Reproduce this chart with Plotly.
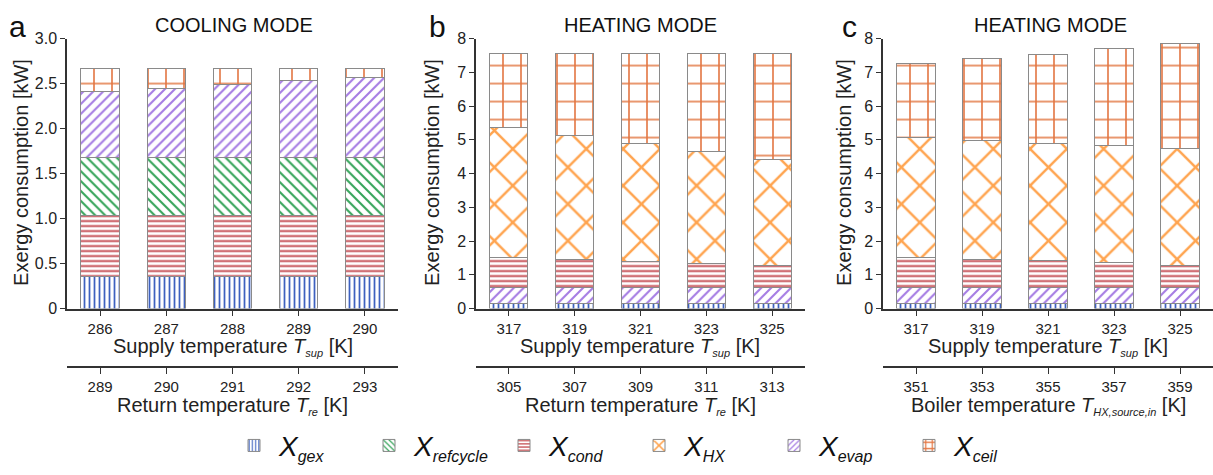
import plotly.graph_objects as go

# ---------------- data ----------------
cool_supply = ["286", "287", "288", "289", "290"]
cool_return = ["289", "290", "291", "292", "293"]
heatb_supply = ["317", "319", "321", "323", "325"]
heatb_return = ["305", "307", "309", "311", "313"]
heatc_supply = ["317", "319", "321", "323", "325"]
heatc_boiler = ["351", "353", "355", "357", "359"]

# panel a (cooling), kW
a_gex = [0.36, 0.36, 0.36, 0.36, 0.36]
a_cond = [0.67, 0.67, 0.67, 0.67, 0.67]
a_refcycle = [0.65, 0.65, 0.65, 0.65, 0.65]
a_evap = [0.73, 0.77, 0.81, 0.85, 0.89]
a_ceil = [0.26, 0.22, 0.18, 0.14, 0.10]

# panel b (heating, return temperature varied), kW
b_gex = [0.15, 0.15, 0.15, 0.15, 0.15]
b_evap = [0.48, 0.48, 0.48, 0.48, 0.48]
b_cond = [0.89, 0.83, 0.77, 0.71, 0.65]
b_hx = [3.85, 3.66, 3.49, 3.31, 3.14]
b_ceil = [2.18, 2.43, 2.66, 2.90, 3.13]

# panel c (heating, boiler temperature varied), kW
c_gex = [0.15, 0.15, 0.15, 0.15, 0.15]
c_evap = [0.48, 0.48, 0.48, 0.48, 0.48]
c_cond = [0.89, 0.83, 0.78, 0.72, 0.66]
c_hx = [3.54, 3.51, 3.48, 3.47, 3.45]
c_ceil = [2.19, 2.43, 2.65, 2.88, 3.12]

W, H = 1213, 475
FONT = "Liberation Sans, Arial, sans-serif"
TXT = "#222222"


def lg(sub):
    return "<i>X</i><sub><span style='font-size:16px'><i>%s</i></span></sub>" % sub


styles = {
    "gex": dict(shape="|", fg="#2850b8", size=5, sol=0.35, lsize=4, lsol=0.35, rank=1,
                name=lg("gex")),
    "refcycle": dict(shape="\\", fg="#1f9a48", size=7, sol=0.3, lsize=5, lsol=0.3, rank=2,
                     name=lg("refcycle")),
    "cond": dict(shape="-", fg="#b8282e", size=5, sol=0.35, lsize=4, lsol=0.35, rank=3,
                 name=lg("cond")),
    "HX": dict(shape="x", fg="#ff9a3c", size=26, sol=0.18, lsize=12, lsol=0.35, rank=4,
               name=lg("HX")),
    "evap": dict(shape="/", fg="#9b6ee0", size=7, sol=0.3, lsize=5, lsol=0.3, rank=5,
                 name=lg("evap")),
    "ceil": dict(shape="+", fg="#e0662c", size=18, sol=0.17, lsize=8, lsol=0.35, rank=6,
                 name=lg("ceil")),
}

fig = go.Figure()


def pat(s, size, sol):
    return dict(shape=s["shape"], fgcolor=s["fg"], bgcolor="white", size=size,
                solidity=sol, fillmode="replace", fgopacity=0.9)


def add_bar(key, xcats, vals, xa, ya):
    s = styles[key]
    fig.add_trace(go.Bar(
        x=xcats, y=vals, xaxis=xa, yaxis=ya, width=0.58,
        name=s["name"], legendgroup=key, showlegend=False,
        marker=dict(color="white", line=dict(color="#8a8a8a", width=1),
                    pattern=pat(s, s["size"], s["sol"])),
        hoverinfo="skip",
    ))


# panel a
for key, vals in [("gex", a_gex), ("cond", a_cond), ("refcycle", a_refcycle),
                  ("evap", a_evap), ("ceil", a_ceil)]:
    add_bar(key, cool_supply, vals, "x", "y")
# panel b
for key, vals in [("gex", b_gex), ("evap", b_evap), ("cond", b_cond),
                  ("HX", b_hx), ("ceil", b_ceil)]:
    add_bar(key, heatb_supply, vals, "x2", "y2")
# panel c
for key, vals in [("gex", c_gex), ("evap", c_evap), ("cond", c_cond),
                  ("HX", c_hx), ("ceil", c_ceil)]:
    add_bar(key, heatc_supply, vals, "x3", "y3")

# legend-only entries (finer pattern so it reads in the small swatch)
for key in ["gex", "refcycle", "cond", "HX", "evap", "ceil"]:
    s = styles[key]
    fig.add_trace(go.Bar(
        x=[None], y=[None], xaxis="x", yaxis="y", name=s["name"], legendgroup=key,
        showlegend=True, legendrank=s["rank"],
        marker=dict(color="white", line=dict(color="#8a8a8a", width=1),
                    pattern=pat(s, s["lsize"], s["lsol"])),
        hoverinfo="skip",
    ))

# dummy traces for secondary (lower) category axes
for xa, ya, cats in [("x4", "y", cool_return), ("x5", "y2", heatb_return),
                     ("x6", "y3", heatc_boiler)]:
    fig.add_trace(go.Scatter(x=cats, y=[None] * len(cats), xaxis=xa, yaxis=ya,
                             mode="markers", showlegend=False, hoverinfo="skip"))

ybot = (H - 311.7) / H
ytop = (H - 31.7) / H
domains = [(67 / W, 398 / W), (476 / W, 805 / W), (883 / W, 1.0)]
sec_pos = (H - 372) / H

axis_common = dict(showline=True, linecolor="#333333", linewidth=1.5,
                   ticks="outside", ticklen=6, tickwidth=1.2, tickcolor="#333333",
                   showgrid=False, zeroline=False,
                   tickfont=dict(family=FONT, size=15, color=TXT))

layout = dict(
    width=W, height=H, margin=dict(l=0, r=0, t=0, b=0),
    paper_bgcolor="white", plot_bgcolor="white", barmode="stack",
    font=dict(family=FONT, color=TXT),
)

xcats_list = [cool_supply, heatb_supply, heatc_supply]
sec_list = [cool_return, heatb_return, heatc_boiler]
for i in range(3):
    n = "" if i == 0 else str(i + 1)
    layout["xaxis" + n] = dict(axis_common, domain=domains[i], anchor="y" + n,
                               type="category", categoryarray=xcats_list[i],
                               categoryorder="array", range=[-0.5, 4.5],
                               ticklabelstandoff=0)
    layout["xaxis" + str(i + 4)] = dict(axis_common, domain=domains[i],
                                        overlaying="x" + n, anchor="free",
                                        position=sec_pos, side="bottom",
                                        linewidth=2, type="category",
                                        categoryarray=sec_list[i],
                                        categoryorder="array", range=[-0.5, 4.5])

layout["yaxis"] = dict(axis_common, domain=[ybot, ytop], anchor="x", range=[0, 3.0],
                       tickvals=[0, 0.5, 1.0, 1.5, 2.0, 2.5, 3.0],
                       ticktext=["0", "0.5", "1.0", "1.5", "2.0", "2.5", "3.0"],
                       ticklen=5, tickfont=dict(family=FONT, size=16, color=TXT))
for n, xa in [("2", "x2"), ("3", "x3")]:
    layout["yaxis" + n] = dict(axis_common, domain=[ybot, ytop], anchor=xa,
                               range=[0, 8], tickvals=list(range(0, 9)), ticklen=5,
                               tickfont=dict(family=FONT, size=16, color=TXT))

layout["legend"] = dict(orientation="h", x=634 / W, xanchor="center", y=(H - 454) / H,
                        yanchor="middle", font=dict(family=FONT, size=28, color="#111"),
                        traceorder="normal", entrywidth=80, itemwidth=40,
                        bgcolor="rgba(0,0,0,0)")

fig.update_layout(**layout)

ann = []


def A(text, x, y, size, angle=0, color=TXT):
    ann.append(dict(text=text, x=x / W, y=(H - y) / H, xref="paper", yref="paper",
                    xanchor="center", yanchor="middle", showarrow=False,
                    textangle=angle, font=dict(family=FONT, size=size, color=color)))


def sub(s):
    return "<sub><span style='font-size:11px'><i>%s</i></span></sub>" % s


# panel letters
for txt, x in [("a", 17), ("b", 437), ("c", 849)]:
    A(txt, x, 19, 30, color="#111")
# titles
for txt, x in [("COOLING MODE", 234), ("HEATING MODE", 640), ("HEATING MODE", 1050)]:
    A(txt, x, 18, 20, color="#111")
# y titles
for x in [21, 432, 844]:
    A("Exergy consumption [kW]", x, 171, 20, angle=-90)
# x titles
sup = "Supply temperature <i>T</i>" + sub("sup") + " [K]"
for xc in [233, 640, 1048]:
    A(sup, xc, 352, 20)
lower = [(233, "Return temperature <i>T</i>" + sub("re") + " [K]"),
         (640, "Return temperature <i>T</i>" + sub("re") + " [K]"),
         (1048, "Boiler temperature <i>T</i>" + sub("HX,source,in") + " [K]")]
for xc, t in lower:
    A(t, xc, 413, 20)
fig.update_layout(annotations=ann)

fig.write_html("out.html")
